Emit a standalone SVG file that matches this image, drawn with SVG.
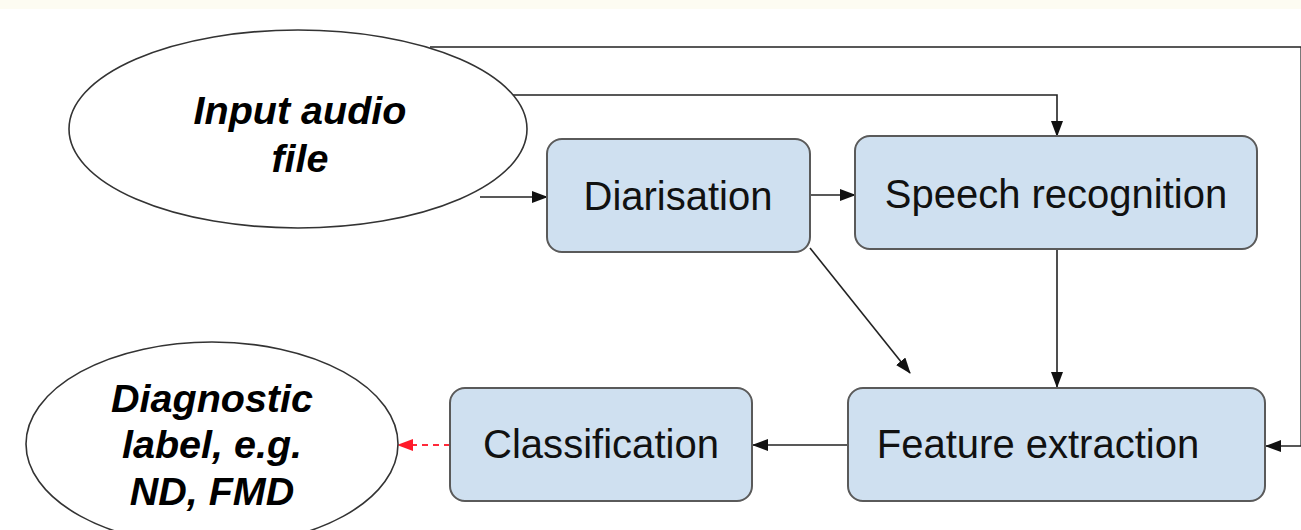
<svg xmlns="http://www.w3.org/2000/svg" width="1301" height="530" viewBox="0 0 1301 530">
<style>
.box{fill:#cfe0f0;stroke:#5a5a5a;stroke-width:2}
.ell{fill:#fff;stroke:#333;stroke-width:1.6}
.lbl{font-family:"Liberation Sans",Arial,sans-serif;font-size:40px;fill:#111;text-anchor:middle}
.bi{font-family:"Liberation Sans",Arial,sans-serif;font-size:39.5px;font-weight:bold;font-style:italic;fill:#000;text-anchor:middle}
.c{fill:none;stroke:#222;stroke-width:1.6}
.r{fill:none;stroke:#ff2a3a;stroke-width:2;stroke-dasharray:6,5}
</style>
<defs>
<marker id="ah" markerUnits="userSpaceOnUse" markerWidth="16" markerHeight="12" refX="15" refY="6" orient="auto">
<path d="M0,0 L16,6 L0,12 Z" fill="#111"/>
</marker>
<marker id="ahr" markerUnits="userSpaceOnUse" markerWidth="16" markerHeight="12" refX="15" refY="6" orient="auto">
<path d="M0,0 L16,6 L0,12 Z" fill="#ff1a2a"/>
</marker>
</defs>
<rect x="0" y="0" width="1301" height="9" fill="#fdfcf2"/>
<rect x="0" y="9" width="1301" height="521" fill="#fff"/>
<g id="connectors">
<path class="c" d="M430,47 H1301.2 V446 H1266" marker-end="url(#ah)"/>
<path class="c" d="M510,95 H1057 V136" marker-end="url(#ah)"/>
<path class="c" d="M480,197 H547" marker-end="url(#ah)"/>
<path class="c" d="M810,195 H855" marker-end="url(#ah)"/>
<path class="c" d="M810,248 L910,373" marker-end="url(#ah)"/>
<path class="c" d="M1057,249 V387" marker-end="url(#ah)"/>
<path class="c" d="M848,445 H753" marker-end="url(#ah)"/>
<path class="r" d="M450,445 H398" marker-end="url(#ahr)"/>
</g>
<g id="input">
<ellipse class="ell" cx="298" cy="129" rx="229" ry="99"/>
<text class="bi" x="300" y="124">Input audio</text>
<text class="bi" x="300" y="172">file</text>
</g>
<g id="diarisation">
<rect class="box" x="547" y="139" width="263" height="113" rx="15"/>
<text class="lbl" x="678" y="210">Diarisation</text>
</g>
<g id="speech">
<rect class="box" x="855" y="136" width="402" height="113" rx="15"/>
<text class="lbl" x="1056" y="208">Speech recognition</text>
</g>
<g id="feature">
<rect class="box" x="848" y="388" width="417" height="113" rx="15"/>
<text class="lbl" x="1038" y="458">Feature extraction</text>
</g>
<g id="classification">
<rect class="box" x="450" y="388" width="302" height="113" rx="15"/>
<text class="lbl" x="601" y="458" textLength="236" lengthAdjust="spacingAndGlyphs">Classification</text>
</g>
<g id="diagnostic">
<ellipse class="ell" cx="212" cy="444" rx="186" ry="102"/>
<text class="bi" x="212" y="412">Diagnostic</text>
<text class="bi" x="212" y="458">label, e.g.</text>
<text class="bi" x="212" y="505">ND, FMD</text>
</g>
</svg>
